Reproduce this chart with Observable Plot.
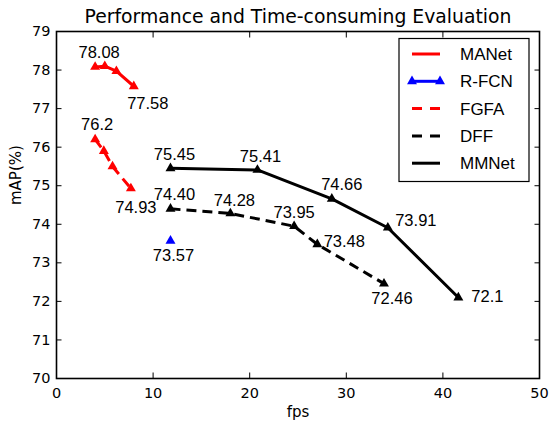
<!DOCTYPE html>
<html><head><meta charset="utf-8">
<script src="https://cdn.jsdelivr.net/npm/d3@7"></script>
<script src="https://cdn.jsdelivr.net/npm/@observablehq/plot@0.6"></script>
<style>
html,body{margin:0;padding:0;background:#fff;}
#chart{position:relative;width:552px;height:421px;}
</style></head><body><div id="chart"></div>
<script>
// ---- data ----
const title = "Performance and Time-consuming Evaluation";
const xLabel = "fps";
const yLabel = "mAP(%)";
const xTicks = [0, 10, 20, 30, 40, 50];
const yTicks = [70, 71, 72, 73, 74, 75, 76, 77, 78, 79];

const seriesNames = ["MANet", "R-FCN", "FGFA", "DFF", "MMNet"];

const manetFps = [4.0, 5.0, 6.2, 8.0];
const manetMap = [78.08, 78.10, 77.97, 77.58];
const manetLabels = ["78.08", null, null, "77.58"];

const rfcnFps = [11.8];
const rfcnMap = [73.57];
const rfcnLabels = ["73.57"];

const fgfaFps = [4.0, 4.9, 5.8, 7.7];
const fgfaMap = [76.2, 75.9, 75.5, 74.93];
const fgfaLabels = ["76.2", null, null, "74.93"];

const dffFps = [11.8, 18.0, 24.6, 27.0, 33.9];
const dffMap = [74.40, 74.28, 73.95, 73.48, 72.46];
const dffLabels = ["74.40", "74.28", "73.95", "73.48", "72.46"];

const mmnetFps = [11.8, 20.8, 28.5, 34.3, 41.6];
const mmnetMap = [75.45, 75.41, 74.66, 73.91, 72.1];
const mmnetLabels = ["75.45", "75.41", "74.66", "73.91", "72.1"];

// ---- styling / layout ----
const seriesStyle = {
  "MANet": {color: "#ff0000", dash: null, line: true},
  "R-FCN": {color: "#0000ff", dash: null, line: false},
  "FGFA":  {color: "#ff0000", dash: "10,6", line: true},
  "DFF":   {color: "#000000", dash: "10,6", line: true},
  "MMNet": {color: "#000000", dash: null, line: true}
};
// label offsets (px) per label, in series order
const labelOffsets = {
  "MANet": [[4, -14], null, null, [14, 17]],
  "R-FCN": [[3, 15]],
  "FGFA":  [[2, -15], null, null, [5, 19]],
  "DFF":   [[4, -14.5], [4, -12.5], [0, -13.5], [27, -3], [8, 15]],
  "MMNet": [[4, -14], [3, -13], [10, -14.5], [28, -7], [29, -1]]
};

const seriesData = {
  "MANet": [manetFps, manetMap, manetLabels],
  "R-FCN": [rfcnFps, rfcnMap, rfcnLabels],
  "FGFA":  [fgfaFps, fgfaMap, fgfaLabels],
  "DFF":   [dffFps, dffMap, dffLabels],
  "MMNet": [mmnetFps, mmnetMap, mmnetLabels]
};

const rows = {};
for (const s of seriesNames) {
  const [xs, ys, ls] = seriesData[s];
  rows[s] = xs.map((x, i) => ({series: s, fps: x, map: ys[i], label: ls[i], off: labelOffsets[s][i]}));
}

const marks = [];
for (const s of ["MANet", "FGFA", "DFF", "MMNet", "R-FCN"]) {
  const st = seriesStyle[s];
  if (st.line) {
    marks.push(Plot.line(rows[s], {x: "fps", y: "map", stroke: st.color, strokeWidth: 3,
      strokeDasharray: st.dash, strokeLinecap: "butt", strokeLinejoin: "round"}));
  }
  marks.push(Plot.dot(rows[s], {x: "fps", y: "map", symbol: "triangle", r: 3.7, fill: st.color, stroke: "none"}));
}
for (const s of seriesNames) {
  for (const d of rows[s]) {
    if (!d.label) continue;
    marks.push(Plot.text([d], {x: "fps", y: "map", text: "label", dx: d.off[0], dy: d.off[1],
      fontFamily: "Liberation Sans, Arial, sans-serif", fontSize: 16.5, fill: "black",
      textAnchor: "middle", lineAnchor: "middle"}));
  }
}

const chart = Plot.plot({
  width: 552,
  height: 421,
  marginLeft: 56,
  marginRight: 13,
  marginTop: 31,
  marginBottom: 43,
  style: {fontFamily: "DejaVu Sans", fontSize: "14.5px", color: "black", background: "white", overflow: "visible"},
  x: {domain: [0, 50]},
  y: {domain: [70, 79]},
  marks: [
    Plot.axisX({anchor: "bottom", ticks: xTicks, tickSize: -5.5, tickPadding: 15, fontSize: 14.5, label: null}),
    Plot.axisX({anchor: "top", ticks: xTicks, tickSize: -5.5, tickFormat: () => "", label: null}),
    Plot.axisY({anchor: "left", ticks: yTicks, tickSize: -5.5, tickPadding: 11.5, fontSize: 14.5, label: null}),
    Plot.axisY({anchor: "right", ticks: yTicks, tickSize: -5.5, tickFormat: () => "", label: null}),
    ...marks,
    Plot.frame({stroke: "black", strokeWidth: 1.6}),
    Plot.text([title], {frameAnchor: "top", dy: -14.5, fontSize: 18.8, fontFamily: "DejaVu Sans", lineAnchor: "middle"}),
    Plot.text([xLabel], {frameAnchor: "bottom", dy: 34, fontSize: 15, fontFamily: "DejaVu Sans", lineAnchor: "middle"}),
    Plot.text([yLabel], {frameAnchor: "left", dx: -40, rotate: -90, fontSize: 15, fontFamily: "DejaVu Sans", lineAnchor: "middle"})
  ]
});
document.getElementById("chart").appendChild(chart);

// ---- legend (drawn into the same svg) ----
const svg = d3.select(chart);
const lg = svg.append("g").attr("class", "legend").attr("text-anchor", "start");
const box = {x: 399, y: 38.5, w: 130, h: 143};
lg.append("rect").attr("x", box.x).attr("y", box.y).attr("width", box.w).attr("height", box.h)
  .attr("fill", "white").attr("stroke", "black").attr("stroke-width", 1.2);
seriesNames.forEach((s, i) => {
  const st = seriesStyle[s];
  const cy = box.y + 15.5 + i * 27.3;
  lg.append("line").attr("x1", 412).attr("x2", 440).attr("y1", cy).attr("y2", cy)
    .attr("stroke", st.color).attr("stroke-width", 3)
    .attr("stroke-dasharray", st.dash ? "10,8" : null);
  if (!st.line) {
    const tri = d3.symbol(d3.symbolTriangle, Math.PI * 3.7 * 3.7);
    [412, 440].forEach(x => lg.append("path").attr("d", tri()).attr("transform", `translate(${x},${cy})`).attr("fill", st.color));
  }
  lg.append("text").attr("x", 460).attr("y", cy).attr("dy", "0.35em")
    .attr("text-anchor", "start")
    .attr("font-family", "Liberation Sans, Arial, sans-serif").attr("font-size", 17).attr("fill", "black")
    .text(s);
});
</script>
</body></html>
